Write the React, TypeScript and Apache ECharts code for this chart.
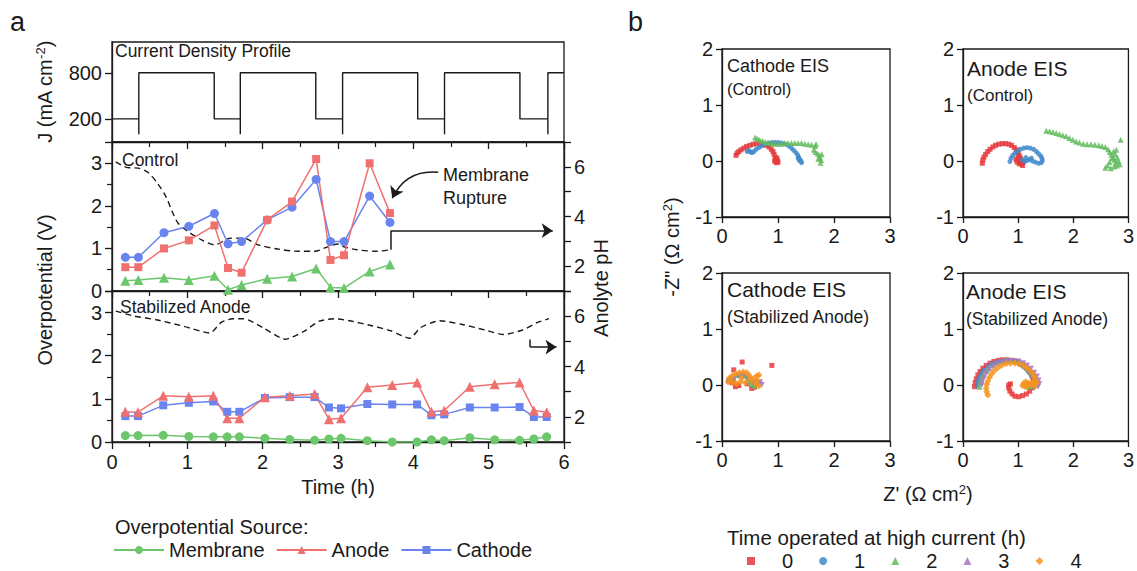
import React, { useEffect, useRef } from 'react';
import * as echarts from 'echarts';

const FONT = '"Liberation Sans", Arial, Helvetica, sans-serif';

// ---------- Panel a: current density profile ----------
const profileT = [0, 0.356, 0.356, 0.356, 1.357, 1.357, 1.703, 1.703, 1.703, 2.705, 2.705, 3.061, 3.061, 3.061, 4.058, 4.058, 4.414, 4.414, 4.414, 5.415, 5.415, 5.786, 5.786, 5.786, 6];
const profileJ = [200, 200, 0, 800, 800, 200, 200, 0, 800, 800, 200, 200, 0, 800, 800, 200, 200, 0, 800, 800, 200, 200, 0, 800, 800];
const jTicks = [200, 800];

// ---------- Panel a: Control ----------
const ctrlT = [0.177, 0.35, 0.69, 1.02, 1.36, 1.54, 1.72, 2.06, 2.39, 2.71, 2.9, 3.08, 3.42, 3.69];
const ctrlCathode = [0.79, 0.79, 1.37, 1.52, 1.82, 1.11, 1.16, 1.67, 1.97, 2.62, 1.16, 1.16, 2.23, 1.61];
const ctrlAnode = [0.56, 0.56, 1.0, 1.19, 1.54, 0.54, 0.43, 1.67, 2.1, 3.1, 0.73, 0.84, 3.0, 1.83];
const ctrlMembrane = [0.24, 0.26, 0.31, 0.26, 0.36, 0.03, 0.14, 0.29, 0.34, 0.53, 0.085, 0.07, 0.46, 0.62];
const ctrlPhT = [0.05, 0.21, 0.35, 0.48, 0.61, 0.72, 0.81, 0.88, 1.01, 1.19, 1.36, 1.58, 1.74, 1.94, 2.2, 2.47, 2.69, 2.87, 3.0, 3.07, 3.25, 3.51, 3.69];
const ctrlPh = [6.2, 5.97, 5.95, 5.77, 5.31, 4.78, 4.12, 3.72, 3.39, 3.06, 2.86, 3.13, 3.13, 2.86, 2.69, 2.6, 2.6, 2.79, 2.89, 2.79, 2.66, 2.6, 2.66];
const ruptureStem = [[3.7, 2.66], [3.7, 3.43]]; // (h, pH)
const ruptureArrow = [[3.7, 3.43], [5.85, 3.43]]; // (h, pH)
const ruptureCurve = [[4.33, 2.79], [3.72, 2.18]]; // (h, V)

// ---------- Panel a: Stabilized Anode ----------
const stabT = [0.177, 0.345, 0.68, 1.02, 1.345, 1.53, 1.69, 2.03, 2.36, 2.69, 2.88, 3.04, 3.39, 3.72, 4.05, 4.24, 4.41, 4.75, 5.08, 5.41, 5.6, 5.77];
const stabAnode = [0.7, 0.69, 1.07, 1.05, 1.07, 0.55, 0.55, 1.04, 1.07, 1.11, 0.53, 0.55, 1.27, 1.32, 1.38, 0.7, 0.73, 1.28, 1.34, 1.38, 0.73, 0.69];
const stabCathode = [0.6, 0.6, 0.85, 0.91, 0.94, 0.7, 0.7, 1.02, 1.04, 1.04, 0.8, 0.78, 0.88, 0.87, 0.87, 0.62, 0.64, 0.8, 0.8, 0.81, 0.58, 0.58];
const stabMembrane = [0.15, 0.15, 0.155, 0.13, 0.12, 0.12, 0.12, 0.085, 0.06, 0.04, 0.07, 0.085, 0.03, 0.0, 0.0, 0.05, 0.03, 0.1, 0.05, 0.04, 0.07, 0.12];
const stabPhT = [0.05, 0.3, 0.6, 0.95, 1.3, 1.45, 1.6, 1.75, 2.0, 2.3, 2.55, 2.75, 2.95, 3.15, 3.45, 3.7, 3.95, 4.1, 4.35, 4.65, 4.95, 5.2, 5.45, 5.65, 5.8];
const stabPh = [6.2, 6.0, 5.85, 5.6, 5.33, 5.75, 5.9, 5.9, 5.55, 5.08, 5.4, 5.8, 5.9, 5.82, 5.62, 5.42, 5.12, 5.55, 5.82, 5.67, 5.45, 5.27, 5.45, 5.75, 5.9];
const stabStem = [[5.55, 5.07], [5.55, 4.77]];
const stabArrow = [[5.55, 4.77], [5.9, 4.77]];

const legendA = ['Membrane', 'Anode', 'Cathode'];

// ---------- Panel b: EIS (Z', -Z'') ----------
const eisCathCtrl0 = [[0.25, 0.1], [0.27, 0.14], [0.3, 0.17], [0.34, 0.2], [0.39, 0.23], [0.44, 0.26], [0.5, 0.28], [0.56, 0.3], [0.62, 0.31], [0.68, 0.31], [0.74, 0.3], [0.79, 0.28], [0.84, 0.25], [0.88, 0.21], [0.91, 0.17], [0.93, 0.12], [0.95, 0.07], [0.97, 0.03], [0.99, 0.0], [1.0, -0.02], [0.96, 0.02], [0.98, 0.05], [0.94, 0.0], [0.97, -0.03]];
const eisCathCtrl1 = [[0.45, 0.17], [0.48, 0.19], [0.51, 0.16], [0.54, 0.15], [0.57, 0.17], [0.61, 0.21], [0.66, 0.24], [0.71, 0.27], [0.77, 0.3], [0.83, 0.32], [0.89, 0.33], [0.95, 0.33], [1.01, 0.33], [1.07, 0.32], [1.13, 0.3], [1.19, 0.27], [1.24, 0.23], [1.28, 0.19], [1.32, 0.15], [1.35, 0.11], [1.37, 0.07], [1.39, 0.03], [1.41, 0.0], [1.42, -0.03], [1.38, 0.01], [1.36, 0.05]];
const eisCathCtrl2 = [[0.59, 0.42], [0.63, 0.4], [0.67, 0.38], [0.72, 0.36], [0.77, 0.34], [0.82, 0.33], [0.88, 0.32], [0.94, 0.31], [1.0, 0.31], [1.06, 0.31], [1.12, 0.32], [1.18, 0.32], [1.24, 0.32], [1.3, 0.32], [1.36, 0.32], [1.42, 0.32], [1.48, 0.31], [1.54, 0.3], [1.6, 0.29], [1.66, 0.27], [1.68, 0.3], [1.64, 0.2], [1.67, 0.16], [1.71, 0.13], [1.74, 0.1], [1.78, 0.12], [1.75, 0.06], [1.77, 0.02], [1.76, -0.03], [1.72, 0.04]];

const eisAnCtrl0 = [[0.35, -0.04], [0.36, 0.02], [0.38, 0.07], [0.41, 0.12], [0.45, 0.17], [0.49, 0.21], [0.54, 0.25], [0.59, 0.28], [0.65, 0.3], [0.71, 0.31], [0.77, 0.31], [0.83, 0.3], [0.88, 0.28], [0.93, 0.24], [0.97, 0.2], [1.0, 0.15], [1.02, 0.1], [1.04, 0.05], [1.05, 0.0], [1.06, -0.05], [1.08, -0.08], [1.02, -0.05], [0.98, -0.02], [0.96, 0.03], [1.0, 0.06], [1.09, -0.02]];
const eisAnCtrl1 = [[0.85, -0.01], [0.87, 0.05], [0.9, 0.1], [0.94, 0.14], [0.99, 0.18], [1.04, 0.21], [1.1, 0.23], [1.16, 0.24], [1.22, 0.23], [1.28, 0.21], [1.33, 0.17], [1.37, 0.13], [1.41, 0.09], [1.43, 0.05], [1.44, 0.01], [1.42, -0.03], [1.37, -0.04], [1.31, -0.02], [1.26, 0.0], [1.21, 0.03], [1.17, 0.01], [1.12, -0.01], [1.08, 0.02], [1.14, 0.06], [1.24, 0.05]];
const eisAnCtrl2 = [[1.51, 0.54], [1.57, 0.53], [1.63, 0.52], [1.69, 0.5], [1.75, 0.48], [1.81, 0.46], [1.87, 0.44], [1.93, 0.41], [1.99, 0.38], [2.05, 0.35], [2.11, 0.33], [2.18, 0.31], [2.25, 0.3], [2.32, 0.3], [2.39, 0.29], [2.46, 0.28], [2.52, 0.27], [2.58, 0.25], [2.63, 0.21], [2.66, 0.16], [2.69, 0.11], [2.72, 0.06], [2.75, 0.02], [2.77, -0.03], [2.79, -0.08], [2.84, -0.06], [2.82, 0.0], [2.8, 0.06], [2.76, 0.12], [2.73, 0.17], [2.7, 0.05], [2.66, -0.02], [2.62, -0.08], [2.58, -0.12], [2.68, -0.13], [2.74, -0.1], [2.86, 0.38], [2.78, 0.2]];

const eisCathStab0 = [[0.21, 0.27], [0.36, 0.41], [0.89, 0.35], [0.15, 0.1], [0.18, 0.04], [0.24, -0.03], [0.3, -0.01], [0.2, 0.06], [0.53, -0.06], [0.58, -0.04], [0.45, 0.02], [0.27, 0.0], [0.12, 0.07]];
const eisCathStab1 = [[0.12, 0.08], [0.17, 0.12], [0.22, 0.15], [0.28, 0.17], [0.35, 0.18], [0.42, 0.16], [0.48, 0.12], [0.52, 0.07], [0.56, 0.03], [0.6, 0.02], [0.64, 0.05]];
const eisCathStab2 = [[0.14, 0.1], [0.2, 0.14], [0.27, 0.18], [0.34, 0.19], [0.4, 0.17], [0.46, 0.12], [0.5, 0.06], [0.54, 0.02], [0.57, -0.02], [0.62, 0.01], [0.58, 0.06]];
const eisCathStab3 = [[0.15, 0.09], [0.21, 0.13], [0.29, 0.17], [0.37, 0.18], [0.44, 0.15], [0.5, 0.09], [0.55, 0.05], [0.6, 0.04], [0.66, 0.02], [0.71, 0.0], [0.68, 0.05]];
const eisCathStab4 = [[0.11, 0.06], [0.13, 0.12], [0.18, 0.16], [0.24, 0.2], [0.31, 0.22], [0.38, 0.23], [0.44, 0.22], [0.48, 0.18], [0.51, 0.12], [0.53, 0.08], [0.57, 0.12], [0.62, 0.16], [0.66, 0.18], [0.63, 0.08], [0.6, 0.02], [0.66, -0.02], [0.42, 0.04], [0.33, 0.06], [0.26, 0.02], [0.19, 0.05], [0.35, 0.12]];

const eisAnStab0 = [[0.21, -0.03], [0.22, 0.04], [0.24, 0.11], [0.27, 0.18], [0.31, 0.24], [0.36, 0.3], [0.42, 0.35], [0.49, 0.39], [0.56, 0.42], [0.64, 0.44], [0.72, 0.45], [0.8, 0.45], [0.88, 0.44], [0.96, 0.42], [1.03, 0.38], [1.1, 0.34], [1.16, 0.29], [1.21, 0.23], [1.25, 0.16], [1.27, 0.09], [1.27, 0.02], [1.25, -0.05], [1.21, -0.11], [1.15, -0.16], [1.08, -0.19], [1.01, -0.21], [0.94, -0.2], [0.89, -0.16], [0.85, -0.11], [0.83, -0.05], [0.83, 0.0], [0.86, 0.02]];
const eisAnStab1 = [[0.26, -0.01], [0.27, 0.06], [0.29, 0.13], [0.33, 0.2], [0.38, 0.26], [0.44, 0.32], [0.51, 0.37], [0.58, 0.4], [0.66, 0.42], [0.74, 0.43], [0.82, 0.43], [0.9, 0.42], [0.98, 0.4], [1.05, 0.36], [1.12, 0.31], [1.18, 0.25], [1.23, 0.19], [1.27, 0.12], [1.29, 0.05], [1.28, 0.0], [1.24, -0.03], [1.19, -0.01], [1.15, 0.03]];
const eisAnStab2 = [[0.3, -0.03], [0.31, 0.04], [0.33, 0.11], [0.37, 0.18], [0.42, 0.25], [0.48, 0.31], [0.55, 0.36], [0.63, 0.4], [0.71, 0.42], [0.79, 0.44], [0.87, 0.44], [0.95, 0.43], [1.03, 0.41], [1.1, 0.37], [1.17, 0.32], [1.23, 0.26], [1.28, 0.19], [1.32, 0.12], [1.34, 0.06], [1.32, 0.0], [1.26, -0.02], [1.19, -0.03], [1.12, 0.0]];
const eisAnStab3 = [[0.34, 0.0], [0.35, 0.07], [0.38, 0.14], [0.42, 0.21], [0.47, 0.27], [0.54, 0.33], [0.61, 0.37], [0.69, 0.4], [0.77, 0.42], [0.85, 0.43], [0.93, 0.43], [1.01, 0.42], [1.09, 0.39], [1.16, 0.35], [1.23, 0.29], [1.29, 0.22], [1.34, 0.15], [1.37, 0.08], [1.38, 0.02], [1.36, -0.03], [1.3, -0.05]];
const eisAnStab4 = [[0.45, -0.18], [0.43, -0.12], [0.42, -0.06], [0.43, 0.01], [0.45, 0.07], [0.48, 0.14], [0.52, 0.2], [0.57, 0.26], [0.63, 0.31], [0.7, 0.35], [0.78, 0.38], [0.86, 0.39], [0.94, 0.39], [1.02, 0.38], [1.09, 0.35], [1.15, 0.31], [1.21, 0.26], [1.26, 0.2], [1.29, 0.14], [1.31, 0.09], [1.29, 0.05], [1.24, 0.03], [1.19, 0.03], [1.14, 0.06], [1.1, 0.03], [1.08, -0.01], [1.13, -0.03], [1.18, -0.01], [1.24, 0.0], [1.3, -0.02], [1.33, 0.04]];

const timeNames = ['0', '1', '2', '3', '4'];

// ---------- styles ----------
const RED = '#f07070';
const BLUE = '#6a84ef';
const GREEN = '#6cc76c';
const INK = '#1a1a1a';
const eisColors = ['#e5393c', '#4189cb', '#62bb5e', '#a874c4', '#f6941f'];
const eisSymbols = ['rect', 'circle', 'triangle', 'triangle', 'diamond'];
const eisSizes = [5, 5, 6, 6, 7];
const eisRot = [0, 0, 0, 180, 0];

const zip = (a: number[], b: number[]) => a.map((v, i) => [v, b[i]]);

const lineAx = { show: true, onZero: false, lineStyle: { color: INK, width: 1.3 } };
const tickAx = (len: number) => ({ show: true, inside: false, length: len, lineStyle: { color: INK, width: 1.3 } });
const lbl = (extra: any = {}) => ({ color: INK, fontSize: 20, fontFamily: FONT, ...extra });

export default function App() {
  const ref = useRef<HTMLDivElement>(null);
  useEffect(() => {
    document.body.style.margin = '0';
    if (!ref.current) return;
    const chart = echarts.init(ref.current, undefined, { renderer: 'svg' });

    const gridsA = [
      { left: 112, top: 42, width: 452, height: 100 },
      { left: 112, top: 142, width: 452, height: 149 },
      { left: 112, top: 291, width: 452, height: 151 },
    ];
    const gridsB = [
      { left: 722, top: 49, width: 168, height: 168 },
      { left: 963, top: 49, width: 168, height: 168 },
      { left: 722, top: 273, width: 168, height: 168 },
      { left: 963, top: 273, width: 168, height: 168 },
    ];
    const grid = [...gridsA, ...gridsB].map((g) => ({ ...g, show: true, borderColor: INK, borderWidth: 1.3, containLabel: false }));

    const xAxes: any[] = [0, 1, 2].map((gi) => ({
      type: 'value', gridIndex: gi, min: 0, max: 6, interval: 1,
      axisLine: lineAx, axisTick: tickAx(7), minorTick: { show: true, splitNumber: 2, length: 5, lineStyle: { color: INK, width: 1.2 } },
      splitLine: { show: false }, minorSplitLine: { show: false },
      axisLabel: gi === 2 ? lbl({ margin: 10 }) : { show: false },
    }));
    [3, 4, 5, 6].forEach((gi) => xAxes.push({
      type: 'value', gridIndex: gi, min: 0, max: 3, interval: 1,
      axisLine: lineAx, axisTick: tickAx(6), splitLine: { show: false },
      axisLabel: lbl({ margin: 9 }),
    }));

    const yAxes: any[] = [
      {
        type: 'value', gridIndex: 0, min: -100, max: 1200,
        axisLine: lineAx, axisTick: { ...tickAx(7), customValues: jTicks }, splitLine: { show: false },
        axisLabel: lbl({ customValues: jTicks, margin: 10 }),
      },
    ];
    [1, 2].forEach((gi) => {
      yAxes.push({
        type: 'value', gridIndex: gi, position: 'left', min: 0, max: 3.5, interval: 1,
        axisLine: lineAx, axisTick: tickAx(7), minorTick: { show: true, splitNumber: 2, length: 5, lineStyle: { color: INK, width: 1.2 } },
        splitLine: { show: false }, minorSplitLine: { show: false },
        axisLabel: lbl({ margin: 10, showMaxLabel: false, formatter: (v: number) => (Number.isInteger(v) ? String(v) : '') }),
      });
      yAxes.push({
        type: 'value', gridIndex: gi, position: 'right', min: 1, max: 7, interval: 1,
        axisLine: lineAx, axisTick: tickAx(7), splitLine: { show: false },
        axisLabel: lbl({ margin: 10, formatter: (v: number) => (v % 2 === 0 && v < 7 ? String(v) : '') }),
      });
    });
    [3, 4, 5, 6].forEach((gi) => yAxes.push({
      type: 'value', gridIndex: gi, min: -1, max: 2, interval: 1,
      axisLine: lineAx, axisTick: tickAx(6), splitLine: { show: false },
      axisLabel: lbl({ margin: 9 }),
    }));

    const dashed = { color: INK, width: 1.4, type: [6, 4] as any };
    const mkLine = (name: string, xi: number, yi: number, t: number[], v: number[], color: string, symbol: string, size: number) => ({
      name, type: 'line', xAxisIndex: xi, yAxisIndex: yi, data: zip(t, v), symbol, symbolSize: size,
      lineStyle: { color, width: 1.5 }, itemStyle: { color }, z: 3,
    });
    const seg = (xi: number, yi: number, coords: number[][], arrow: boolean, curveness = 0) => ({
      type: 'lines', coordinateSystem: 'cartesian2d', xAxisIndex: xi, yAxisIndex: yi,
      symbol: arrow ? ['none', 'arrow'] : ['none', 'none'], symbolSize: 11,
      lineStyle: { color: INK, width: 1.5, opacity: 1, curveness }, data: [{ coords }],
    });

    const series: any[] = [
      { type: 'line', xAxisIndex: 0, yAxisIndex: 0, data: zip(profileT, profileJ), symbol: 'none', lineStyle: { color: INK, width: 1.4 } },
      { type: 'line', xAxisIndex: 1, yAxisIndex: 2, data: zip(ctrlPhT, ctrlPh), symbol: 'none', smooth: 0.3, lineStyle: dashed },
      mkLine('Membrane (Control)', 1, 1, ctrlT, ctrlMembrane, GREEN, 'triangle', 10),
      mkLine('Cathode (Control)', 1, 1, ctrlT, ctrlCathode, BLUE, 'circle', 9),
      mkLine('Anode (Control)', 1, 1, ctrlT, ctrlAnode, RED, 'rect', 8),
      seg(1, 2, ruptureStem, false),
      seg(1, 2, ruptureArrow, true),
      seg(1, 1, ruptureCurve, true, -0.35),
      { type: 'line', xAxisIndex: 2, yAxisIndex: 4, data: zip(stabPhT, stabPh), symbol: 'none', smooth: 0.2, lineStyle: dashed },
      mkLine('Membrane', 2, 3, stabT, stabMembrane, GREEN, 'circle', 9),
      mkLine('Cathode', 2, 3, stabT, stabCathode, BLUE, 'rect', 8),
      mkLine('Anode', 2, 3, stabT, stabAnode, RED, 'triangle', 10),
      seg(2, 4, stabStem, false),
      seg(2, 4, stabArrow, true),
    ];

    const eisPanels = [
      [eisCathCtrl0, eisCathCtrl1, eisCathCtrl2],
      [eisAnCtrl0, eisAnCtrl1, eisAnCtrl2],
      [eisCathStab0, eisCathStab1, eisCathStab2, eisCathStab3, eisCathStab4],
      [eisAnStab0, eisAnStab1, eisAnStab2, eisAnStab3, eisAnStab4],
    ];
    eisPanels.forEach((sets, p) => {
      sets.forEach((d, k) => {
        series.push({
          name: timeNames[k], type: 'scatter', xAxisIndex: 3 + p, yAxisIndex: 5 + p, data: d,
          symbol: eisSymbols[k], symbolSize: eisSizes[k], symbolRotate: eisRot[k],
          itemStyle: { color: eisColors[k], opacity: 0.85 },
        });
      });
    });

    const txt = (text: string, x: number, y: number, size: number, extra: any = {}) => ({
      type: 'text', x, y, silent: true,
      style: { text, fontSize: size, fontFamily: FONT, fill: INK, textVerticalAlign: 'middle', ...extra },
    });
    const rot = (text: string, x: number, y: number, rich?: any) => ({
      type: 'text', x, y, rotation: Math.PI / 2, silent: true,
      style: { text, fontSize: 20, fontFamily: FONT, fill: INK, textAlign: 'center', textVerticalAlign: 'middle', rich },
    });
    const supRich = {
      sup: { fontSize: 13, fontFamily: FONT, fill: INK, verticalAlign: 'top', lineHeight: 22 },
    };

    const graphic: any[] = [
      txt('a', 10, 22, 27),
      txt('b', 628, 22, 27),
      txt('Current Density Profile', 115, 51, 17.5),
      txt('Control', 122, 160, 17.5),
      txt('Stabilized Anode', 120, 307, 17.5),
      txt('Membrane', 443, 175, 18),
      txt('Rupture', 443, 198, 18),
      rot('J (mA cm{sup|-2})', 45, 92, supRich),
      rot('Overpotential (V)', 45, 290),
      rot('Anolyte pH', 601, 288),
      txt('Time (h)', 338, 487, 20, { textAlign: 'center' }),
      txt('Overpotential Source:', 115, 527, 20),
      txt('Cathode EIS', 727, 66, 18),
      txt('(Control)', 727, 89, 16.5),
      txt('Anode EIS', 967, 68, 21),
      txt('(Control)', 967, 95, 17),
      txt('Cathode EIS', 727, 289, 21),
      txt('(Stabilized Anode)', 727, 317, 17.5),
      txt('Anode EIS', 966, 291, 21),
      txt('(Stabilized Anode)', 966, 319, 17.5),
      rot('-Z" (Ω cm{sup|2})', 672, 247, supRich),
      txt("Z' (Ω cm{sup|2})", 928, 494, 20, { textAlign: 'center', rich: supRich }),
      txt('Time operated at high current (h)', 727, 537, 20.5),
    ];

    chart.setOption({
      animation: false,
      backgroundColor: '#ffffff',
      textStyle: { fontFamily: FONT },
      grid,
      xAxis: xAxes,
      yAxis: yAxes,
      legend: [
        {
          data: legendA, left: 113, top: 540, padding: 0, itemWidth: 50, itemHeight: 10, itemGap: 11,
          textStyle: { fontSize: 20, fontFamily: FONT, color: INK }, selectedMode: false,
        },
        {
          data: timeNames, left: 747, top: 551, padding: 0, itemWidth: 8, itemHeight: 8, itemGap: 26,
          textStyle: { fontSize: 20, fontFamily: FONT, color: INK, padding: [0, 0, 0, 22] }, selectedMode: false,
        },
      ],
      series,
      graphic,
    });
    return () => chart.dispose();
  }, []);
  return <div ref={ref} style={{ width: 1137, height: 571 }} />;
}
